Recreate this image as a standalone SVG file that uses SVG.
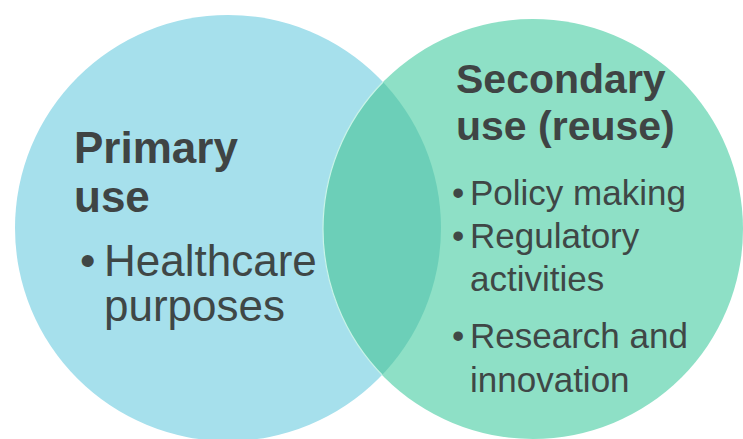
<svg xmlns="http://www.w3.org/2000/svg" width="743" height="439" viewBox="0 0 743 439">
  <style>
    .head { font-family: "Liberation Sans", Arial, sans-serif; font-weight: bold; fill: #3f4444; }
    .item { font-family: "Liberation Sans", Arial, sans-serif; fill: #3f4746; }
  </style>
  <defs>
    <clipPath id="clip-primary">
      <circle cx="228" cy="228" r="213"/>
    </clipPath>
  </defs>
  <rect width="743" height="439" fill="#ffffff"/>

  <!-- Primary use circle -->
  <g id="primary">
    <circle cx="228" cy="228" r="213" fill="#a6e0ec"/>
    <text class="head" font-size="44" x="74" y="163">Primary</text>
    <text class="head" font-size="44" x="74" y="212">use</text>
    <text class="item" font-size="44" x="80" y="276">•</text>
    <text class="item" font-size="44" x="104" y="276">Healthcare</text>
    <text class="item" font-size="44" x="104" y="321">purposes</text>
  </g>

  <!-- Secondary use circle -->
  <g id="secondary">
    <circle cx="533" cy="229" r="210" fill="#8ee0c6"/>
  </g>

  <!-- Overlap lens -->
  <g id="overlap">
    <circle cx="533" cy="229" r="210" fill="#6ccfb8" clip-path="url(#clip-primary)"/>
    <circle cx="533" cy="229" r="210" fill="none" stroke="#c8f3e8" stroke-width="1.2" clip-path="url(#clip-primary)"/>
  </g>

  <g id="secondary-text">
    <text class="head" font-size="41" x="456" y="93">Secondary</text>
    <text class="head" font-size="41" x="456" y="140">use (reuse)</text>
    <text class="item" font-size="35" x="452" y="205">•</text>
    <text class="item" font-size="35" x="470" y="205">Policy making</text>
    <text class="item" font-size="35" x="452" y="248">•</text>
    <text class="item" font-size="35" x="470" y="248">Regulatory</text>
    <text class="item" font-size="35" x="470" y="291">activities</text>
    <text class="item" font-size="35" x="452" y="348">•</text>
    <text class="item" font-size="35" x="470" y="348">Research and</text>
    <text class="item" font-size="35" x="470" y="392">innovation</text>
  </g>
</svg>
